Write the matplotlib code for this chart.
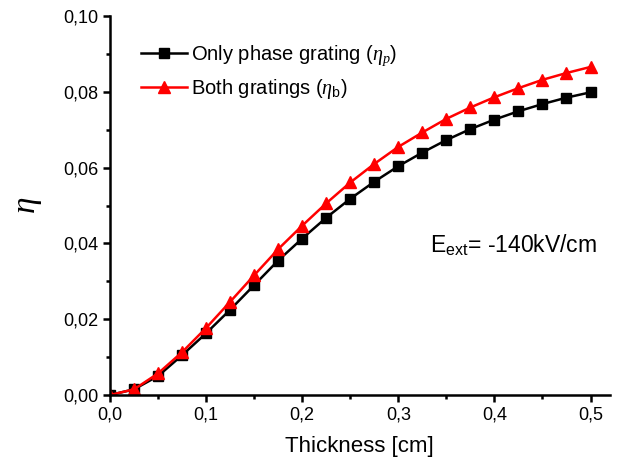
import matplotlib
matplotlib.use('Agg')
import matplotlib.pyplot as plt
from matplotlib.ticker import FuncFormatter, MultipleLocator

plt.rcParams['font.family'] = ['Liberation Sans', 'DejaVu Sans']
plt.rcParams['mathtext.fontset'] = 'custom'
plt.rcParams['mathtext.rm'] = 'Liberation Sans'
plt.rcParams['mathtext.it'] = 'Liberation Serif:italic'

thickness = [0.0, 0.025, 0.05, 0.075, 0.1, 0.125, 0.15, 0.175, 0.2, 0.225, 0.25,
             0.275, 0.3, 0.325, 0.35, 0.375, 0.4, 0.425, 0.45, 0.475, 0.5]
eta_p = [0.0, 0.0015, 0.0050, 0.0105, 0.0163, 0.0225, 0.0290, 0.0355, 0.0413, 0.0468, 0.0518,
         0.0563, 0.0604, 0.0640, 0.0673, 0.0702, 0.0727, 0.0749, 0.0768, 0.0785, 0.0799]
eta_b = [0.0, 0.0015, 0.0057, 0.0113, 0.0177, 0.0246, 0.0316, 0.0385, 0.0447, 0.0506, 0.0561,
         0.0610, 0.0655, 0.0693, 0.0729, 0.0759, 0.0786, 0.0810, 0.0832, 0.0850, 0.0866]

fig = plt.figure(figsize=(6.31, 4.62), dpi=100)
ax = fig.add_axes([0.1743, 0.145, 0.792, 0.820])

ax.plot(thickness, eta_p, 'k-', marker='s', markersize=7.5, linewidth=1.8,
        label=r'Only phase grating ($\eta_p$)')
ax.plot(thickness, eta_b, '-', color='red', marker='^', markersize=9, linewidth=1.8,
        label=r'Both gratings ($\eta_\mathrm{b}$)')

ax.set_xlim(0, 0.52)
ax.set_ylim(0, 0.10)
ax.xaxis.set_major_locator(MultipleLocator(0.1))
ax.xaxis.set_minor_locator(MultipleLocator(0.05))
ax.yaxis.set_major_locator(MultipleLocator(0.02))
ax.yaxis.set_minor_locator(MultipleLocator(0.01))
ax.xaxis.set_major_formatter(FuncFormatter(lambda v, p: ('%.1f' % v).replace('.', ',')))
ax.yaxis.set_major_formatter(FuncFormatter(lambda v, p: ('%.2f' % v).replace('.', ',')))

for s in ['top', 'right']:
    ax.spines[s].set_visible(False)
for s in ['left', 'bottom']:
    ax.spines[s].set_linewidth(1.8)
ax.tick_params(which='major', direction='out', length=5, width=1.8, labelsize=13, pad=3)
ax.tick_params(which='minor', direction='out', length=3, width=1.8)

ax.set_xlabel('Thickness [cm]', fontsize=16, labelpad=9)
ax.set_ylabel(r'$\eta$', fontsize=24, labelpad=14)

ax.text(0.333, 0.0375, r'E$_{\mathrm{ext}}$= -140kV/cm', fontsize=16.5, ha='left')

leg = ax.legend(loc='upper left', bbox_to_anchor=(0.025, 0.975), frameon=False,
                fontsize=14.5, handlelength=2.3, handletextpad=0.2, labelspacing=0.42)

fig.savefig('out.png', dpi=100)
